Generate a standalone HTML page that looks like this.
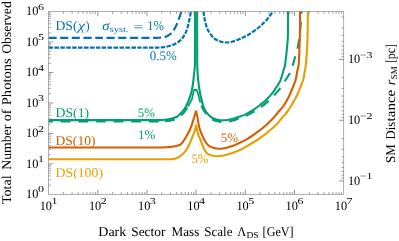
<!DOCTYPE html>
<html><head><meta charset="utf-8"><title>Dark sector limits</title>
<style>
html,body{margin:0;padding:0;background:#fff;}
body{width:399px;height:241px;overflow:hidden;font-family:"Liberation Serif",serif;}
svg{display:block;will-change:transform;text-rendering:geometricPrecision;}
</style></head><body>
<svg width="399" height="241" viewBox="0 0 399 241" font-family="'Liberation Serif', serif">
<defs><clipPath id="cp"><rect x="47.60" y="11.00" width="297.10" height="183.70"/></clipPath></defs>
<rect width="399" height="241" fill="#fff"/>
<g clip-path="url(#cp)">
<path d="M48.60,37.80 C57.17,37.80 83.10,37.80 100.00,37.80 C116.90,37.80 140.33,37.81 150.00,37.80 C159.67,37.79 156.00,37.80 158.00,37.75 C160.00,37.70 160.83,37.62 162.00,37.50 C163.17,37.38 163.90,37.37 165.00,37.00 C166.10,36.63 167.52,35.97 168.60,35.30 C169.68,34.63 170.63,33.88 171.50,33.00 C172.37,32.12 173.05,31.17 173.80,30.00 C174.55,28.83 175.37,27.25 176.00,26.00 C176.63,24.75 177.10,23.75 177.60,22.50 C178.10,21.25 178.55,19.75 179.00,18.50 C179.45,17.25 179.90,16.20 180.30,15.00 C180.70,13.80 181.22,11.92 181.40,11.30" fill="none" stroke="#0072B2" stroke-width="2.20" stroke-linejoin="round" stroke-dasharray="8.1 3.5" stroke-dashoffset="0.00"/>
<path d="M48.60,47.60 C57.17,47.60 83.10,47.60 100.00,47.60 C116.90,47.60 140.50,47.61 150.00,47.60 C159.50,47.59 155.17,47.58 157.00,47.55 C158.83,47.52 159.67,47.49 161.00,47.40 C162.33,47.31 163.50,47.27 165.00,47.00 C166.50,46.73 168.33,46.30 170.00,45.80 C171.67,45.30 173.48,44.75 175.00,44.00 C176.52,43.25 177.85,42.30 179.10,41.30 C180.35,40.30 181.50,39.25 182.50,38.00 C183.50,36.75 184.38,35.13 185.10,33.80 C185.82,32.47 186.30,31.38 186.80,30.00 C187.30,28.62 187.68,27.17 188.10,25.50 C188.52,23.83 188.93,21.75 189.30,20.00 C189.67,18.25 190.02,16.45 190.30,15.00 C190.58,13.55 190.88,11.92 191.00,11.30" fill="none" stroke="#0072B2" stroke-width="2.20" stroke-linejoin="round" stroke-dasharray="4.5 1.4" stroke-dashoffset="0.00"/>
<path d="M203.50,11.30 C203.65,12.42 204.07,16.05 204.40,18.00 C204.73,19.95 205.07,21.33 205.50,23.00 C205.93,24.67 206.42,26.50 207.00,28.00 C207.58,29.50 208.17,30.67 209.00,32.00 C209.83,33.33 211.00,34.83 212.00,36.00 C213.00,37.17 213.83,38.17 215.00,39.00 C216.17,39.83 217.67,40.47 219.00,41.00 C220.33,41.53 221.67,41.95 223.00,42.20 C224.33,42.45 225.50,42.57 227.00,42.50 C228.50,42.43 230.17,42.27 232.00,41.80 C233.83,41.33 236.17,40.42 238.00,39.70 C239.83,38.98 241.32,38.28 243.00,37.50 C244.68,36.72 246.43,35.97 248.10,35.00 C249.77,34.03 251.33,32.87 253.00,31.70 C254.67,30.53 256.60,29.20 258.10,28.00 C259.60,26.80 260.67,25.77 262.00,24.50 C263.33,23.23 264.77,21.90 266.10,20.40 C267.43,18.90 268.82,17.02 270.00,15.50 C271.18,13.98 272.67,12.00 273.20,11.30" fill="none" stroke="#0072B2" stroke-width="2.20" stroke-linejoin="round" stroke-dasharray="4.5 1.4" stroke-dashoffset="0.00"/>
<path d="M48.60,121.50 C57.17,121.50 82.27,121.50 100.00,121.50 C117.73,121.50 145.00,121.51 155.00,121.50 C165.00,121.49 158.50,121.48 160.00,121.45 C161.50,121.42 162.33,121.42 164.00,121.30 C165.67,121.17 168.17,121.00 170.00,120.70 C171.83,120.40 173.67,119.95 175.00,119.50 C176.33,119.05 177.08,118.58 178.00,118.00 C178.92,117.42 179.53,116.90 180.50,116.00 C181.47,115.10 182.80,113.80 183.80,112.60 C184.80,111.40 185.80,109.82 186.50,108.80 C187.20,107.78 187.75,106.88 188.00,106.50" fill="none" stroke="#009E73" stroke-width="2.10" stroke-linejoin="round" stroke-dasharray="9.8 7.8" stroke-dashoffset="-12.20"/>
<path d="M188.00,106.50 L190.00,102.80 L192.00,99.00 L193.00,94.00 L194.40,89.20 L195.40,90.50 L196.40,89.40 L198.10,94.00 L199.30,99.00 L200.30,102.50" fill="none" stroke="#009E73" stroke-width="1.70" stroke-linejoin="bevel"/>
<path d="M200.30,102.50 C200.47,103.00 200.77,104.25 201.30,105.50 C201.83,106.75 202.58,108.50 203.50,110.00 C204.42,111.50 205.80,113.28 206.80,114.50 C207.80,115.72 208.63,116.48 209.50,117.30 C210.37,118.12 210.92,118.77 212.00,119.40 C213.08,120.03 214.50,120.67 216.00,121.10 C217.50,121.53 219.17,121.87 221.00,122.00 C222.83,122.13 225.17,122.10 227.00,121.90 C228.83,121.70 230.08,121.35 232.00,120.80 C233.92,120.25 236.33,119.37 238.50,118.60 C240.67,117.83 243.28,116.90 245.00,116.20 C246.72,115.50 247.13,115.27 248.80,114.40 C250.47,113.53 252.92,112.25 255.00,111.00 C257.08,109.75 259.00,108.62 261.30,106.90 C263.60,105.18 266.60,102.68 268.80,100.70 C271.00,98.72 272.52,97.20 274.50,95.00 C276.48,92.80 278.95,89.87 280.70,87.50 C282.45,85.13 283.40,83.35 285.00,80.80 C286.60,78.25 289.00,74.83 290.30,72.20 C291.60,69.57 291.92,67.80 292.80,65.00 C293.68,62.20 294.78,58.23 295.60,55.40 C296.42,52.57 297.12,50.73 297.70,48.00 C298.28,45.27 298.68,42.00 299.10,39.00 C299.52,36.00 299.88,33.00 300.20,30.00 C300.52,27.00 300.77,24.12 301.00,21.00 C301.23,17.88 301.50,12.92 301.60,11.30" fill="none" stroke="#009E73" stroke-width="2.10" stroke-linejoin="round" stroke-dasharray="9.8 7.8" stroke-dashoffset="-3.33"/>
<path d="M48.60,120.10 C57.17,120.10 82.27,120.10 100.00,120.10 C117.73,120.10 145.00,120.11 155.00,120.10 C165.00,120.09 158.40,120.10 160.00,120.05 C161.60,120.00 162.93,119.96 164.60,119.80 C166.27,119.64 168.25,119.47 170.00,119.10 C171.75,118.73 173.83,118.07 175.10,117.60 C176.37,117.13 176.83,116.87 177.60,116.30 C178.37,115.73 178.77,115.13 179.70,114.20 C180.63,113.27 182.17,111.98 183.20,110.70 C184.23,109.42 185.08,107.95 185.90,106.50 C186.72,105.05 187.47,103.53 188.10,102.00 C188.73,100.47 189.18,98.80 189.70,97.30 C190.22,95.80 190.77,94.55 191.20,93.00 C191.63,91.45 191.97,89.83 192.30,88.00 C192.63,86.17 192.95,84.00 193.20,82.00 C193.45,80.00 193.53,78.50 193.80,76.00 C194.07,73.50 194.60,70.33 194.80,67.00 C195.00,63.67 194.95,65.28 195.00,56.00 C195.05,46.72 195.08,18.75 195.10,11.30" fill="none" stroke="#009E73" stroke-width="2.10" stroke-linejoin="round"/>
<path d="M197.10,11.30 C197.12,18.75 197.17,46.72 197.20,56.00 C197.23,65.28 197.20,63.67 197.30,67.00 C197.40,70.33 197.62,73.50 197.80,76.00 C197.98,78.50 198.17,80.00 198.40,82.00 C198.63,84.00 198.90,86.00 199.20,88.00 C199.50,90.00 199.83,92.17 200.20,94.00 C200.57,95.83 201.03,97.50 201.40,99.00 C201.77,100.50 202.03,101.63 202.40,103.00 C202.77,104.37 203.13,105.93 203.60,107.20 C204.07,108.47 204.55,109.53 205.20,110.60 C205.85,111.67 206.78,112.75 207.50,113.60 C208.22,114.45 208.75,115.03 209.50,115.70 C210.25,116.37 211.08,117.05 212.00,117.60 C212.92,118.15 213.67,118.57 215.00,119.00 C216.33,119.43 218.33,120.00 220.00,120.20 C221.67,120.40 223.33,120.32 225.00,120.20 C226.67,120.08 228.33,119.83 230.00,119.50 C231.67,119.17 233.33,118.70 235.00,118.20 C236.67,117.70 238.33,117.10 240.00,116.50 C241.67,115.90 243.75,115.13 245.00,114.60 C246.25,114.07 246.03,114.13 247.50,113.30 C248.97,112.47 251.72,110.98 253.80,109.60 C255.88,108.22 257.92,106.65 260.00,105.00 C262.08,103.35 264.20,101.73 266.30,99.70 C268.40,97.67 271.12,94.62 272.60,92.80 C274.08,90.98 274.27,90.18 275.20,88.80 C276.13,87.42 277.30,85.97 278.20,84.50 C279.10,83.03 279.75,82.25 280.60,80.00 C281.45,77.75 282.57,73.50 283.30,71.00 C284.03,68.50 284.47,68.00 285.00,65.00 C285.53,62.00 286.07,57.00 286.50,53.00 C286.93,49.00 287.37,44.00 287.60,41.00 C287.83,38.00 287.82,39.95 287.90,35.00 C287.98,30.05 288.07,15.25 288.10,11.30" fill="none" stroke="#009E73" stroke-width="2.10" stroke-linejoin="round"/>
<path d="M48.60,147.50 C57.17,147.50 82.27,147.50 100.00,147.50 C117.73,147.50 144.67,147.51 155.00,147.50 C165.33,147.49 160.12,147.48 162.00,147.45 C163.88,147.42 164.80,147.39 166.30,147.30 C167.80,147.21 169.55,147.08 171.00,146.90 C172.45,146.72 173.38,146.63 175.00,146.20 C176.62,145.77 179.23,145.25 180.70,144.30 C182.17,143.35 182.65,142.17 183.80,140.50 C184.95,138.83 186.45,136.38 187.60,134.30 C188.75,132.22 189.75,130.38 190.70,128.00 C191.65,125.62 192.63,122.08 193.30,120.00 C193.97,117.92 194.27,117.03 194.70,115.50 C195.13,113.97 195.70,111.58 195.90,110.80 C196.10,111.58 196.77,113.97 197.10,115.50 C197.43,117.03 197.52,117.92 197.90,120.00 C198.28,122.08 198.75,125.62 199.40,128.00 C200.05,130.38 200.93,132.22 201.80,134.30 C202.67,136.38 203.48,138.63 204.60,140.50 C205.72,142.37 206.97,144.25 208.50,145.50 C210.03,146.75 211.88,147.47 213.80,148.00 C215.72,148.53 217.70,148.80 220.00,148.70 C222.30,148.60 225.28,147.93 227.60,147.40 C229.92,146.87 232.25,146.10 233.90,145.50 C235.55,144.90 235.23,144.92 237.50,143.80 C239.77,142.68 244.15,140.78 247.50,138.80 C250.85,136.82 254.47,134.20 257.60,131.90 C260.73,129.60 263.80,127.18 266.30,125.00 C268.80,122.82 270.73,120.80 272.60,118.80 C274.47,116.80 275.63,115.22 277.50,113.00 C279.37,110.78 281.92,108.20 283.80,105.50 C285.68,102.80 287.33,99.72 288.80,96.80 C290.27,93.88 291.47,90.80 292.60,88.00 C293.73,85.20 294.82,82.83 295.60,80.00 C296.38,77.17 296.80,73.50 297.30,71.00 C297.80,68.50 298.27,68.00 298.60,65.00 C298.93,62.00 299.08,58.00 299.30,53.00 C299.52,48.00 299.77,41.95 299.90,35.00 C300.03,28.05 300.07,15.25 300.10,11.30" fill="none" stroke="#D55E00" stroke-width="2.10" stroke-linejoin="bevel"/>
<path d="M48.60,159.30 C57.17,159.30 81.43,159.30 100.00,159.30 C118.57,159.30 148.67,159.31 160.00,159.30 C171.33,159.29 165.83,159.30 168.00,159.25 C170.17,159.20 171.50,159.21 173.00,159.00 C174.50,158.79 175.83,158.47 177.00,158.00 C178.17,157.53 178.67,157.23 180.00,156.20 C181.33,155.17 183.53,153.58 185.00,151.80 C186.47,150.02 187.63,147.80 188.80,145.50 C189.97,143.20 191.15,140.08 192.00,138.00 C192.85,135.92 193.38,134.45 193.90,133.00 C194.42,131.55 194.75,130.67 195.10,129.30 C195.45,127.93 195.85,125.55 196.00,124.80 C196.15,125.55 196.55,127.72 196.90,129.30 C197.25,130.88 197.47,132.43 198.10,134.30 C198.73,136.17 199.92,138.55 200.70,140.50 C201.48,142.45 202.05,144.25 202.80,146.00 C203.55,147.75 204.33,149.67 205.20,151.00 C206.07,152.33 206.87,153.23 208.00,154.00 C209.13,154.77 210.62,155.23 212.00,155.60 C213.38,155.97 214.53,156.17 216.30,156.20 C218.07,156.23 220.30,156.22 222.60,155.80 C224.90,155.38 227.20,154.67 230.10,153.70 C233.00,152.73 236.68,151.55 240.00,150.00 C243.32,148.45 246.67,146.37 250.00,144.40 C253.33,142.43 256.87,140.38 260.00,138.20 C263.13,136.02 266.07,133.60 268.80,131.30 C271.53,129.00 274.22,126.62 276.40,124.40 C278.58,122.18 280.25,119.90 281.90,118.00 C283.55,116.10 284.73,115.08 286.30,113.00 C287.87,110.92 289.63,108.20 291.30,105.50 C292.97,102.80 294.83,99.72 296.30,96.80 C297.77,93.88 298.97,90.80 300.10,88.00 C301.23,85.20 302.32,82.83 303.10,80.00 C303.88,77.17 304.35,73.50 304.80,71.00 C305.25,68.50 305.47,68.00 305.80,65.00 C306.13,62.00 306.50,58.00 306.80,53.00 C307.10,48.00 307.42,41.95 307.60,35.00 C307.78,28.05 307.85,15.25 307.90,11.30" fill="none" stroke="#E69F00" stroke-width="2.10" stroke-linejoin="bevel"/>
</g>
<rect x="48.60" y="11.60" width="295.10" height="182.70" fill="none" stroke="#8c8c8c" stroke-width="0.7"/>
<line x1="63.41" y1="194.30" x2="63.41" y2="192.00" stroke="#7a7a7a" stroke-width="0.70"/>
<line x1="63.41" y1="11.60" x2="63.41" y2="13.90" stroke="#7a7a7a" stroke-width="0.70"/>
<line x1="72.07" y1="194.30" x2="72.07" y2="192.00" stroke="#7a7a7a" stroke-width="0.70"/>
<line x1="72.07" y1="11.60" x2="72.07" y2="13.90" stroke="#7a7a7a" stroke-width="0.70"/>
<line x1="78.21" y1="194.30" x2="78.21" y2="192.00" stroke="#7a7a7a" stroke-width="0.70"/>
<line x1="78.21" y1="11.60" x2="78.21" y2="13.90" stroke="#7a7a7a" stroke-width="0.70"/>
<line x1="82.98" y1="194.30" x2="82.98" y2="192.00" stroke="#7a7a7a" stroke-width="0.70"/>
<line x1="82.98" y1="11.60" x2="82.98" y2="13.90" stroke="#7a7a7a" stroke-width="0.70"/>
<line x1="86.87" y1="194.30" x2="86.87" y2="192.00" stroke="#7a7a7a" stroke-width="0.70"/>
<line x1="86.87" y1="11.60" x2="86.87" y2="13.90" stroke="#7a7a7a" stroke-width="0.70"/>
<line x1="90.16" y1="194.30" x2="90.16" y2="192.00" stroke="#7a7a7a" stroke-width="0.70"/>
<line x1="90.16" y1="11.60" x2="90.16" y2="13.90" stroke="#7a7a7a" stroke-width="0.70"/>
<line x1="93.02" y1="194.30" x2="93.02" y2="192.00" stroke="#7a7a7a" stroke-width="0.70"/>
<line x1="93.02" y1="11.60" x2="93.02" y2="13.90" stroke="#7a7a7a" stroke-width="0.70"/>
<line x1="95.53" y1="194.30" x2="95.53" y2="192.00" stroke="#7a7a7a" stroke-width="0.70"/>
<line x1="95.53" y1="11.60" x2="95.53" y2="13.90" stroke="#7a7a7a" stroke-width="0.70"/>
<line x1="97.78" y1="194.30" x2="97.78" y2="189.70" stroke="#7a7a7a" stroke-width="0.80"/>
<line x1="97.78" y1="11.60" x2="97.78" y2="16.20" stroke="#7a7a7a" stroke-width="0.80"/>
<line x1="112.59" y1="194.30" x2="112.59" y2="192.00" stroke="#7a7a7a" stroke-width="0.70"/>
<line x1="112.59" y1="11.60" x2="112.59" y2="13.90" stroke="#7a7a7a" stroke-width="0.70"/>
<line x1="121.25" y1="194.30" x2="121.25" y2="192.00" stroke="#7a7a7a" stroke-width="0.70"/>
<line x1="121.25" y1="11.60" x2="121.25" y2="13.90" stroke="#7a7a7a" stroke-width="0.70"/>
<line x1="127.39" y1="194.30" x2="127.39" y2="192.00" stroke="#7a7a7a" stroke-width="0.70"/>
<line x1="127.39" y1="11.60" x2="127.39" y2="13.90" stroke="#7a7a7a" stroke-width="0.70"/>
<line x1="132.16" y1="194.30" x2="132.16" y2="192.00" stroke="#7a7a7a" stroke-width="0.70"/>
<line x1="132.16" y1="11.60" x2="132.16" y2="13.90" stroke="#7a7a7a" stroke-width="0.70"/>
<line x1="136.06" y1="194.30" x2="136.06" y2="192.00" stroke="#7a7a7a" stroke-width="0.70"/>
<line x1="136.06" y1="11.60" x2="136.06" y2="13.90" stroke="#7a7a7a" stroke-width="0.70"/>
<line x1="139.35" y1="194.30" x2="139.35" y2="192.00" stroke="#7a7a7a" stroke-width="0.70"/>
<line x1="139.35" y1="11.60" x2="139.35" y2="13.90" stroke="#7a7a7a" stroke-width="0.70"/>
<line x1="142.20" y1="194.30" x2="142.20" y2="192.00" stroke="#7a7a7a" stroke-width="0.70"/>
<line x1="142.20" y1="11.60" x2="142.20" y2="13.90" stroke="#7a7a7a" stroke-width="0.70"/>
<line x1="144.72" y1="194.30" x2="144.72" y2="192.00" stroke="#7a7a7a" stroke-width="0.70"/>
<line x1="144.72" y1="11.60" x2="144.72" y2="13.90" stroke="#7a7a7a" stroke-width="0.70"/>
<line x1="146.97" y1="194.30" x2="146.97" y2="189.70" stroke="#7a7a7a" stroke-width="0.80"/>
<line x1="146.97" y1="11.60" x2="146.97" y2="16.20" stroke="#7a7a7a" stroke-width="0.80"/>
<line x1="161.77" y1="194.30" x2="161.77" y2="192.00" stroke="#7a7a7a" stroke-width="0.70"/>
<line x1="161.77" y1="11.60" x2="161.77" y2="13.90" stroke="#7a7a7a" stroke-width="0.70"/>
<line x1="170.43" y1="194.30" x2="170.43" y2="192.00" stroke="#7a7a7a" stroke-width="0.70"/>
<line x1="170.43" y1="11.60" x2="170.43" y2="13.90" stroke="#7a7a7a" stroke-width="0.70"/>
<line x1="176.58" y1="194.30" x2="176.58" y2="192.00" stroke="#7a7a7a" stroke-width="0.70"/>
<line x1="176.58" y1="11.60" x2="176.58" y2="13.90" stroke="#7a7a7a" stroke-width="0.70"/>
<line x1="181.34" y1="194.30" x2="181.34" y2="192.00" stroke="#7a7a7a" stroke-width="0.70"/>
<line x1="181.34" y1="11.60" x2="181.34" y2="13.90" stroke="#7a7a7a" stroke-width="0.70"/>
<line x1="185.24" y1="194.30" x2="185.24" y2="192.00" stroke="#7a7a7a" stroke-width="0.70"/>
<line x1="185.24" y1="11.60" x2="185.24" y2="13.90" stroke="#7a7a7a" stroke-width="0.70"/>
<line x1="188.53" y1="194.30" x2="188.53" y2="192.00" stroke="#7a7a7a" stroke-width="0.70"/>
<line x1="188.53" y1="11.60" x2="188.53" y2="13.90" stroke="#7a7a7a" stroke-width="0.70"/>
<line x1="191.38" y1="194.30" x2="191.38" y2="192.00" stroke="#7a7a7a" stroke-width="0.70"/>
<line x1="191.38" y1="11.60" x2="191.38" y2="13.90" stroke="#7a7a7a" stroke-width="0.70"/>
<line x1="193.90" y1="194.30" x2="193.90" y2="192.00" stroke="#7a7a7a" stroke-width="0.70"/>
<line x1="193.90" y1="11.60" x2="193.90" y2="13.90" stroke="#7a7a7a" stroke-width="0.70"/>
<line x1="196.15" y1="194.30" x2="196.15" y2="189.70" stroke="#7a7a7a" stroke-width="0.80"/>
<line x1="196.15" y1="11.60" x2="196.15" y2="16.20" stroke="#7a7a7a" stroke-width="0.80"/>
<line x1="210.96" y1="194.30" x2="210.96" y2="192.00" stroke="#7a7a7a" stroke-width="0.70"/>
<line x1="210.96" y1="11.60" x2="210.96" y2="13.90" stroke="#7a7a7a" stroke-width="0.70"/>
<line x1="219.62" y1="194.30" x2="219.62" y2="192.00" stroke="#7a7a7a" stroke-width="0.70"/>
<line x1="219.62" y1="11.60" x2="219.62" y2="13.90" stroke="#7a7a7a" stroke-width="0.70"/>
<line x1="225.76" y1="194.30" x2="225.76" y2="192.00" stroke="#7a7a7a" stroke-width="0.70"/>
<line x1="225.76" y1="11.60" x2="225.76" y2="13.90" stroke="#7a7a7a" stroke-width="0.70"/>
<line x1="230.53" y1="194.30" x2="230.53" y2="192.00" stroke="#7a7a7a" stroke-width="0.70"/>
<line x1="230.53" y1="11.60" x2="230.53" y2="13.90" stroke="#7a7a7a" stroke-width="0.70"/>
<line x1="234.42" y1="194.30" x2="234.42" y2="192.00" stroke="#7a7a7a" stroke-width="0.70"/>
<line x1="234.42" y1="11.60" x2="234.42" y2="13.90" stroke="#7a7a7a" stroke-width="0.70"/>
<line x1="237.71" y1="194.30" x2="237.71" y2="192.00" stroke="#7a7a7a" stroke-width="0.70"/>
<line x1="237.71" y1="11.60" x2="237.71" y2="13.90" stroke="#7a7a7a" stroke-width="0.70"/>
<line x1="240.57" y1="194.30" x2="240.57" y2="192.00" stroke="#7a7a7a" stroke-width="0.70"/>
<line x1="240.57" y1="11.60" x2="240.57" y2="13.90" stroke="#7a7a7a" stroke-width="0.70"/>
<line x1="243.08" y1="194.30" x2="243.08" y2="192.00" stroke="#7a7a7a" stroke-width="0.70"/>
<line x1="243.08" y1="11.60" x2="243.08" y2="13.90" stroke="#7a7a7a" stroke-width="0.70"/>
<line x1="245.33" y1="194.30" x2="245.33" y2="189.70" stroke="#7a7a7a" stroke-width="0.80"/>
<line x1="245.33" y1="11.60" x2="245.33" y2="16.20" stroke="#7a7a7a" stroke-width="0.80"/>
<line x1="260.14" y1="194.30" x2="260.14" y2="192.00" stroke="#7a7a7a" stroke-width="0.70"/>
<line x1="260.14" y1="11.60" x2="260.14" y2="13.90" stroke="#7a7a7a" stroke-width="0.70"/>
<line x1="268.80" y1="194.30" x2="268.80" y2="192.00" stroke="#7a7a7a" stroke-width="0.70"/>
<line x1="268.80" y1="11.60" x2="268.80" y2="13.90" stroke="#7a7a7a" stroke-width="0.70"/>
<line x1="274.94" y1="194.30" x2="274.94" y2="192.00" stroke="#7a7a7a" stroke-width="0.70"/>
<line x1="274.94" y1="11.60" x2="274.94" y2="13.90" stroke="#7a7a7a" stroke-width="0.70"/>
<line x1="279.71" y1="194.30" x2="279.71" y2="192.00" stroke="#7a7a7a" stroke-width="0.70"/>
<line x1="279.71" y1="11.60" x2="279.71" y2="13.90" stroke="#7a7a7a" stroke-width="0.70"/>
<line x1="283.61" y1="194.30" x2="283.61" y2="192.00" stroke="#7a7a7a" stroke-width="0.70"/>
<line x1="283.61" y1="11.60" x2="283.61" y2="13.90" stroke="#7a7a7a" stroke-width="0.70"/>
<line x1="286.90" y1="194.30" x2="286.90" y2="192.00" stroke="#7a7a7a" stroke-width="0.70"/>
<line x1="286.90" y1="11.60" x2="286.90" y2="13.90" stroke="#7a7a7a" stroke-width="0.70"/>
<line x1="289.75" y1="194.30" x2="289.75" y2="192.00" stroke="#7a7a7a" stroke-width="0.70"/>
<line x1="289.75" y1="11.60" x2="289.75" y2="13.90" stroke="#7a7a7a" stroke-width="0.70"/>
<line x1="292.27" y1="194.30" x2="292.27" y2="192.00" stroke="#7a7a7a" stroke-width="0.70"/>
<line x1="292.27" y1="11.60" x2="292.27" y2="13.90" stroke="#7a7a7a" stroke-width="0.70"/>
<line x1="294.52" y1="194.30" x2="294.52" y2="189.70" stroke="#7a7a7a" stroke-width="0.80"/>
<line x1="294.52" y1="11.60" x2="294.52" y2="16.20" stroke="#7a7a7a" stroke-width="0.80"/>
<line x1="309.32" y1="194.30" x2="309.32" y2="192.00" stroke="#7a7a7a" stroke-width="0.70"/>
<line x1="309.32" y1="11.60" x2="309.32" y2="13.90" stroke="#7a7a7a" stroke-width="0.70"/>
<line x1="317.98" y1="194.30" x2="317.98" y2="192.00" stroke="#7a7a7a" stroke-width="0.70"/>
<line x1="317.98" y1="11.60" x2="317.98" y2="13.90" stroke="#7a7a7a" stroke-width="0.70"/>
<line x1="324.13" y1="194.30" x2="324.13" y2="192.00" stroke="#7a7a7a" stroke-width="0.70"/>
<line x1="324.13" y1="11.60" x2="324.13" y2="13.90" stroke="#7a7a7a" stroke-width="0.70"/>
<line x1="328.89" y1="194.30" x2="328.89" y2="192.00" stroke="#7a7a7a" stroke-width="0.70"/>
<line x1="328.89" y1="11.60" x2="328.89" y2="13.90" stroke="#7a7a7a" stroke-width="0.70"/>
<line x1="332.79" y1="194.30" x2="332.79" y2="192.00" stroke="#7a7a7a" stroke-width="0.70"/>
<line x1="332.79" y1="11.60" x2="332.79" y2="13.90" stroke="#7a7a7a" stroke-width="0.70"/>
<line x1="336.08" y1="194.30" x2="336.08" y2="192.00" stroke="#7a7a7a" stroke-width="0.70"/>
<line x1="336.08" y1="11.60" x2="336.08" y2="13.90" stroke="#7a7a7a" stroke-width="0.70"/>
<line x1="338.93" y1="194.30" x2="338.93" y2="192.00" stroke="#7a7a7a" stroke-width="0.70"/>
<line x1="338.93" y1="11.60" x2="338.93" y2="13.90" stroke="#7a7a7a" stroke-width="0.70"/>
<line x1="341.45" y1="194.30" x2="341.45" y2="192.00" stroke="#7a7a7a" stroke-width="0.70"/>
<line x1="341.45" y1="11.60" x2="341.45" y2="13.90" stroke="#7a7a7a" stroke-width="0.70"/>
<line x1="48.60" y1="185.13" x2="50.90" y2="185.13" stroke="#7a7a7a" stroke-width="0.70"/>
<line x1="48.60" y1="179.77" x2="50.90" y2="179.77" stroke="#7a7a7a" stroke-width="0.70"/>
<line x1="48.60" y1="175.97" x2="50.90" y2="175.97" stroke="#7a7a7a" stroke-width="0.70"/>
<line x1="48.60" y1="173.02" x2="50.90" y2="173.02" stroke="#7a7a7a" stroke-width="0.70"/>
<line x1="48.60" y1="170.61" x2="50.90" y2="170.61" stroke="#7a7a7a" stroke-width="0.70"/>
<line x1="48.60" y1="168.57" x2="50.90" y2="168.57" stroke="#7a7a7a" stroke-width="0.70"/>
<line x1="48.60" y1="166.80" x2="50.90" y2="166.80" stroke="#7a7a7a" stroke-width="0.70"/>
<line x1="48.60" y1="165.24" x2="50.90" y2="165.24" stroke="#7a7a7a" stroke-width="0.70"/>
<line x1="48.60" y1="163.85" x2="53.20" y2="163.85" stroke="#7a7a7a" stroke-width="0.80"/>
<line x1="48.60" y1="154.68" x2="50.90" y2="154.68" stroke="#7a7a7a" stroke-width="0.70"/>
<line x1="48.60" y1="149.32" x2="50.90" y2="149.32" stroke="#7a7a7a" stroke-width="0.70"/>
<line x1="48.60" y1="145.52" x2="50.90" y2="145.52" stroke="#7a7a7a" stroke-width="0.70"/>
<line x1="48.60" y1="142.57" x2="50.90" y2="142.57" stroke="#7a7a7a" stroke-width="0.70"/>
<line x1="48.60" y1="140.16" x2="50.90" y2="140.16" stroke="#7a7a7a" stroke-width="0.70"/>
<line x1="48.60" y1="138.12" x2="50.90" y2="138.12" stroke="#7a7a7a" stroke-width="0.70"/>
<line x1="48.60" y1="136.35" x2="50.90" y2="136.35" stroke="#7a7a7a" stroke-width="0.70"/>
<line x1="48.60" y1="134.79" x2="50.90" y2="134.79" stroke="#7a7a7a" stroke-width="0.70"/>
<line x1="48.60" y1="133.40" x2="53.20" y2="133.40" stroke="#7a7a7a" stroke-width="0.80"/>
<line x1="48.60" y1="124.23" x2="50.90" y2="124.23" stroke="#7a7a7a" stroke-width="0.70"/>
<line x1="48.60" y1="118.87" x2="50.90" y2="118.87" stroke="#7a7a7a" stroke-width="0.70"/>
<line x1="48.60" y1="115.07" x2="50.90" y2="115.07" stroke="#7a7a7a" stroke-width="0.70"/>
<line x1="48.60" y1="112.12" x2="50.90" y2="112.12" stroke="#7a7a7a" stroke-width="0.70"/>
<line x1="48.60" y1="109.71" x2="50.90" y2="109.71" stroke="#7a7a7a" stroke-width="0.70"/>
<line x1="48.60" y1="107.67" x2="50.90" y2="107.67" stroke="#7a7a7a" stroke-width="0.70"/>
<line x1="48.60" y1="105.90" x2="50.90" y2="105.90" stroke="#7a7a7a" stroke-width="0.70"/>
<line x1="48.60" y1="104.34" x2="50.90" y2="104.34" stroke="#7a7a7a" stroke-width="0.70"/>
<line x1="48.60" y1="102.95" x2="53.20" y2="102.95" stroke="#7a7a7a" stroke-width="0.80"/>
<line x1="48.60" y1="93.78" x2="50.90" y2="93.78" stroke="#7a7a7a" stroke-width="0.70"/>
<line x1="48.60" y1="88.42" x2="50.90" y2="88.42" stroke="#7a7a7a" stroke-width="0.70"/>
<line x1="48.60" y1="84.62" x2="50.90" y2="84.62" stroke="#7a7a7a" stroke-width="0.70"/>
<line x1="48.60" y1="81.67" x2="50.90" y2="81.67" stroke="#7a7a7a" stroke-width="0.70"/>
<line x1="48.60" y1="79.26" x2="50.90" y2="79.26" stroke="#7a7a7a" stroke-width="0.70"/>
<line x1="48.60" y1="77.22" x2="50.90" y2="77.22" stroke="#7a7a7a" stroke-width="0.70"/>
<line x1="48.60" y1="75.45" x2="50.90" y2="75.45" stroke="#7a7a7a" stroke-width="0.70"/>
<line x1="48.60" y1="73.89" x2="50.90" y2="73.89" stroke="#7a7a7a" stroke-width="0.70"/>
<line x1="48.60" y1="72.50" x2="53.20" y2="72.50" stroke="#7a7a7a" stroke-width="0.80"/>
<line x1="48.60" y1="63.33" x2="50.90" y2="63.33" stroke="#7a7a7a" stroke-width="0.70"/>
<line x1="48.60" y1="57.97" x2="50.90" y2="57.97" stroke="#7a7a7a" stroke-width="0.70"/>
<line x1="48.60" y1="54.17" x2="50.90" y2="54.17" stroke="#7a7a7a" stroke-width="0.70"/>
<line x1="48.60" y1="51.22" x2="50.90" y2="51.22" stroke="#7a7a7a" stroke-width="0.70"/>
<line x1="48.60" y1="48.81" x2="50.90" y2="48.81" stroke="#7a7a7a" stroke-width="0.70"/>
<line x1="48.60" y1="46.77" x2="50.90" y2="46.77" stroke="#7a7a7a" stroke-width="0.70"/>
<line x1="48.60" y1="45.00" x2="50.90" y2="45.00" stroke="#7a7a7a" stroke-width="0.70"/>
<line x1="48.60" y1="43.44" x2="50.90" y2="43.44" stroke="#7a7a7a" stroke-width="0.70"/>
<line x1="48.60" y1="42.05" x2="53.20" y2="42.05" stroke="#7a7a7a" stroke-width="0.80"/>
<line x1="48.60" y1="32.88" x2="50.90" y2="32.88" stroke="#7a7a7a" stroke-width="0.70"/>
<line x1="48.60" y1="27.52" x2="50.90" y2="27.52" stroke="#7a7a7a" stroke-width="0.70"/>
<line x1="48.60" y1="23.72" x2="50.90" y2="23.72" stroke="#7a7a7a" stroke-width="0.70"/>
<line x1="48.60" y1="20.77" x2="50.90" y2="20.77" stroke="#7a7a7a" stroke-width="0.70"/>
<line x1="48.60" y1="18.36" x2="50.90" y2="18.36" stroke="#7a7a7a" stroke-width="0.70"/>
<line x1="48.60" y1="16.32" x2="50.90" y2="16.32" stroke="#7a7a7a" stroke-width="0.70"/>
<line x1="48.60" y1="14.55" x2="50.90" y2="14.55" stroke="#7a7a7a" stroke-width="0.70"/>
<line x1="48.60" y1="12.99" x2="50.90" y2="12.99" stroke="#7a7a7a" stroke-width="0.70"/>
<line x1="343.70" y1="59.50" x2="339.10" y2="59.50" stroke="#7a7a7a" stroke-width="0.80"/>
<line x1="343.70" y1="120.25" x2="339.10" y2="120.25" stroke="#7a7a7a" stroke-width="0.80"/>
<line x1="343.70" y1="181.00" x2="339.10" y2="181.00" stroke="#7a7a7a" stroke-width="0.80"/>
<line x1="343.70" y1="17.04" x2="341.40" y2="17.04" stroke="#7a7a7a" stroke-width="0.70"/>
<line x1="343.70" y1="27.74" x2="341.40" y2="27.74" stroke="#7a7a7a" stroke-width="0.70"/>
<line x1="343.70" y1="35.33" x2="341.40" y2="35.33" stroke="#7a7a7a" stroke-width="0.70"/>
<line x1="343.70" y1="41.21" x2="341.40" y2="41.21" stroke="#7a7a7a" stroke-width="0.70"/>
<line x1="343.70" y1="46.02" x2="341.40" y2="46.02" stroke="#7a7a7a" stroke-width="0.70"/>
<line x1="343.70" y1="50.09" x2="341.40" y2="50.09" stroke="#7a7a7a" stroke-width="0.70"/>
<line x1="343.70" y1="53.61" x2="341.40" y2="53.61" stroke="#7a7a7a" stroke-width="0.70"/>
<line x1="343.70" y1="56.72" x2="341.40" y2="56.72" stroke="#7a7a7a" stroke-width="0.70"/>
<line x1="343.70" y1="77.79" x2="341.40" y2="77.79" stroke="#7a7a7a" stroke-width="0.70"/>
<line x1="343.70" y1="88.49" x2="341.40" y2="88.49" stroke="#7a7a7a" stroke-width="0.70"/>
<line x1="343.70" y1="96.08" x2="341.40" y2="96.08" stroke="#7a7a7a" stroke-width="0.70"/>
<line x1="343.70" y1="101.96" x2="341.40" y2="101.96" stroke="#7a7a7a" stroke-width="0.70"/>
<line x1="343.70" y1="106.77" x2="341.40" y2="106.77" stroke="#7a7a7a" stroke-width="0.70"/>
<line x1="343.70" y1="110.84" x2="341.40" y2="110.84" stroke="#7a7a7a" stroke-width="0.70"/>
<line x1="343.70" y1="114.36" x2="341.40" y2="114.36" stroke="#7a7a7a" stroke-width="0.70"/>
<line x1="343.70" y1="117.47" x2="341.40" y2="117.47" stroke="#7a7a7a" stroke-width="0.70"/>
<line x1="343.70" y1="138.54" x2="341.40" y2="138.54" stroke="#7a7a7a" stroke-width="0.70"/>
<line x1="343.70" y1="149.24" x2="341.40" y2="149.24" stroke="#7a7a7a" stroke-width="0.70"/>
<line x1="343.70" y1="156.83" x2="341.40" y2="156.83" stroke="#7a7a7a" stroke-width="0.70"/>
<line x1="343.70" y1="162.71" x2="341.40" y2="162.71" stroke="#7a7a7a" stroke-width="0.70"/>
<line x1="343.70" y1="167.52" x2="341.40" y2="167.52" stroke="#7a7a7a" stroke-width="0.70"/>
<line x1="343.70" y1="171.59" x2="341.40" y2="171.59" stroke="#7a7a7a" stroke-width="0.70"/>
<line x1="343.70" y1="175.11" x2="341.40" y2="175.11" stroke="#7a7a7a" stroke-width="0.70"/>
<line x1="343.70" y1="178.22" x2="341.40" y2="178.22" stroke="#7a7a7a" stroke-width="0.70"/>
<text x="26.10" y="198.00" font-size="12.90" text-anchor="start" fill="#000" stroke="none" textLength="12.30" lengthAdjust="spacingAndGlyphs" >10</text>
<text x="37.90" y="192.40" font-size="9.00" text-anchor="start" fill="#000" stroke="none" textLength="6.00" lengthAdjust="spacingAndGlyphs" >0</text>
<text x="26.10" y="167.55" font-size="12.90" text-anchor="start" fill="#000" stroke="none" textLength="12.30" lengthAdjust="spacingAndGlyphs" >10</text>
<text x="37.90" y="161.95" font-size="9.00" text-anchor="start" fill="#000" stroke="none" textLength="6.00" lengthAdjust="spacingAndGlyphs" >1</text>
<text x="26.10" y="137.10" font-size="12.90" text-anchor="start" fill="#000" stroke="none" textLength="12.30" lengthAdjust="spacingAndGlyphs" >10</text>
<text x="37.90" y="131.50" font-size="9.00" text-anchor="start" fill="#000" stroke="none" textLength="6.00" lengthAdjust="spacingAndGlyphs" >2</text>
<text x="26.10" y="106.65" font-size="12.90" text-anchor="start" fill="#000" stroke="none" textLength="12.30" lengthAdjust="spacingAndGlyphs" >10</text>
<text x="37.90" y="101.05" font-size="9.00" text-anchor="start" fill="#000" stroke="none" textLength="6.00" lengthAdjust="spacingAndGlyphs" >3</text>
<text x="26.10" y="76.20" font-size="12.90" text-anchor="start" fill="#000" stroke="none" textLength="12.30" lengthAdjust="spacingAndGlyphs" >10</text>
<text x="37.90" y="70.60" font-size="9.00" text-anchor="start" fill="#000" stroke="none" textLength="6.00" lengthAdjust="spacingAndGlyphs" >4</text>
<text x="26.10" y="45.75" font-size="12.90" text-anchor="start" fill="#000" stroke="none" textLength="12.30" lengthAdjust="spacingAndGlyphs" >10</text>
<text x="37.90" y="40.15" font-size="9.00" text-anchor="start" fill="#000" stroke="none" textLength="6.00" lengthAdjust="spacingAndGlyphs" >5</text>
<text x="26.10" y="15.30" font-size="12.90" text-anchor="start" fill="#000" stroke="none" textLength="12.30" lengthAdjust="spacingAndGlyphs" >10</text>
<text x="37.90" y="9.70" font-size="9.00" text-anchor="start" fill="#000" stroke="none" textLength="6.00" lengthAdjust="spacingAndGlyphs" >6</text>
<text x="39.70" y="210.00" font-size="12.90" text-anchor="start" fill="#000" stroke="none" textLength="12.30" lengthAdjust="spacingAndGlyphs" >10</text>
<text x="51.50" y="204.40" font-size="9.00" text-anchor="start" fill="#000" stroke="none" textLength="6.00" lengthAdjust="spacingAndGlyphs" >1</text>
<text x="88.88" y="210.00" font-size="12.90" text-anchor="start" fill="#000" stroke="none" textLength="12.30" lengthAdjust="spacingAndGlyphs" >10</text>
<text x="100.68" y="204.40" font-size="9.00" text-anchor="start" fill="#000" stroke="none" textLength="6.00" lengthAdjust="spacingAndGlyphs" >2</text>
<text x="138.07" y="210.00" font-size="12.90" text-anchor="start" fill="#000" stroke="none" textLength="12.30" lengthAdjust="spacingAndGlyphs" >10</text>
<text x="149.87" y="204.40" font-size="9.00" text-anchor="start" fill="#000" stroke="none" textLength="6.00" lengthAdjust="spacingAndGlyphs" >3</text>
<text x="187.25" y="210.00" font-size="12.90" text-anchor="start" fill="#000" stroke="none" textLength="12.30" lengthAdjust="spacingAndGlyphs" >10</text>
<text x="199.05" y="204.40" font-size="9.00" text-anchor="start" fill="#000" stroke="none" textLength="6.00" lengthAdjust="spacingAndGlyphs" >4</text>
<text x="236.43" y="210.00" font-size="12.90" text-anchor="start" fill="#000" stroke="none" textLength="12.30" lengthAdjust="spacingAndGlyphs" >10</text>
<text x="248.23" y="204.40" font-size="9.00" text-anchor="start" fill="#000" stroke="none" textLength="6.00" lengthAdjust="spacingAndGlyphs" >5</text>
<text x="285.62" y="210.00" font-size="12.90" text-anchor="start" fill="#000" stroke="none" textLength="12.30" lengthAdjust="spacingAndGlyphs" >10</text>
<text x="297.42" y="204.40" font-size="9.00" text-anchor="start" fill="#000" stroke="none" textLength="6.00" lengthAdjust="spacingAndGlyphs" >6</text>
<text x="334.80" y="210.00" font-size="12.90" text-anchor="start" fill="#000" stroke="none" textLength="12.30" lengthAdjust="spacingAndGlyphs" >10</text>
<text x="346.60" y="204.40" font-size="9.00" text-anchor="start" fill="#000" stroke="none" textLength="6.00" lengthAdjust="spacingAndGlyphs" >7</text>
<text x="347.90" y="63.40" font-size="12.90" text-anchor="start" fill="#000" stroke="none" textLength="12.30" lengthAdjust="spacingAndGlyphs" >10</text>
<text x="359.70" y="57.80" font-size="9.00" text-anchor="start" fill="#000" stroke="none" textLength="12.80" lengthAdjust="spacingAndGlyphs" >−3</text>
<text x="347.90" y="124.15" font-size="12.90" text-anchor="start" fill="#000" stroke="none" textLength="12.30" lengthAdjust="spacingAndGlyphs" >10</text>
<text x="359.70" y="118.55" font-size="9.00" text-anchor="start" fill="#000" stroke="none" textLength="12.80" lengthAdjust="spacingAndGlyphs" >−2</text>
<text x="347.90" y="184.90" font-size="12.90" text-anchor="start" fill="#000" stroke="none" textLength="12.30" lengthAdjust="spacingAndGlyphs" >10</text>
<text x="359.70" y="179.30" font-size="9.00" text-anchor="start" fill="#000" stroke="none" textLength="12.80" lengthAdjust="spacingAndGlyphs" >−1</text>
<text x="98.30" y="236.30" font-size="13.40" text-anchor="start" fill="#000" stroke="none" textLength="28.00" lengthAdjust="spacingAndGlyphs" >Dark</text>
<text x="131.20" y="236.30" font-size="13.40" text-anchor="start" fill="#000" stroke="none" textLength="34.30" lengthAdjust="spacingAndGlyphs" >Sector</text>
<text x="171.50" y="236.30" font-size="13.40" text-anchor="start" fill="#000" stroke="none" textLength="27.80" lengthAdjust="spacingAndGlyphs" >Mass</text>
<text x="204.20" y="236.30" font-size="13.40" text-anchor="start" fill="#000" stroke="none" textLength="28.30" lengthAdjust="spacingAndGlyphs" >Scale</text>
<text x="237.20" y="236.30" font-size="13.40" text-anchor="start" fill="#000" stroke="none" textLength="9.00" lengthAdjust="spacingAndGlyphs" >Λ</text>
<text x="246.40" y="238.10" font-size="9.00" text-anchor="start" fill="#000" stroke="none" textLength="12.20" lengthAdjust="spacingAndGlyphs" >DS</text>
<text x="262.60" y="236.30" font-size="13.40" text-anchor="start" fill="#000" stroke="none" textLength="31.00" lengthAdjust="spacingAndGlyphs" >[GeV]</text>
<g transform="translate(10.5,203.8) rotate(-90)">
<text x="-0.30" y="0.00" font-size="13.40" text-anchor="start" fill="#000" stroke="none" textLength="28.70" lengthAdjust="spacingAndGlyphs" >Total</text>
<text x="34.00" y="0.00" font-size="13.40" text-anchor="start" fill="#000" stroke="none" textLength="45.10" lengthAdjust="spacingAndGlyphs" >Number</text>
<text x="82.50" y="0.00" font-size="13.40" text-anchor="start" fill="#000" stroke="none" textLength="11.80" lengthAdjust="spacingAndGlyphs" >of</text>
<text x="98.50" y="0.00" font-size="13.40" text-anchor="start" fill="#000" stroke="none" textLength="47.10" lengthAdjust="spacingAndGlyphs" >Photons</text>
<text x="150.00" y="0.00" font-size="13.40" text-anchor="start" fill="#000" stroke="none" textLength="52.60" lengthAdjust="spacingAndGlyphs" >Observed</text>
</g>
<g transform="translate(394.8,162.7) rotate(-90)">
<text x="-0.30" y="0.00" font-size="13.40" text-anchor="start" fill="#000" stroke="none" textLength="18.80" lengthAdjust="spacingAndGlyphs" >SM</text>
<text x="23.20" y="0.00" font-size="13.40" text-anchor="start" fill="#000" stroke="none" textLength="17.60" lengthAdjust="spacingAndGlyphs" >Dis</text>
<text x="41.30" y="0.00" font-size="13.40" text-anchor="start" fill="#000" stroke="none" textLength="31.60" lengthAdjust="spacingAndGlyphs" >tance</text>
<text x="77.50" y="0.00" font-size="13.40" text-anchor="start" fill="#000" stroke="none" textLength="5.60" lengthAdjust="spacingAndGlyphs" font-style="italic">r</text>
<text x="83.50" y="2.00" font-size="9.00" text-anchor="start" fill="#000" stroke="none" textLength="12.90" lengthAdjust="spacingAndGlyphs" >SM</text>
<text x="99.60" y="0.00" font-size="13.40" text-anchor="start" fill="#000" stroke="none" textLength="19.00" lengthAdjust="spacingAndGlyphs" >[pc]</text>
</g>
<text x="55.50" y="30.00" font-size="13.40" text-anchor="start" fill="#0072B2" stroke="none" textLength="22.00" lengthAdjust="spacingAndGlyphs" >DS(</text>
<text x="77.80" y="30.30" font-size="13.40" text-anchor="start" fill="#0072B2" stroke="none" textLength="7.50" lengthAdjust="spacingAndGlyphs" font-style="italic">χ</text>
<text x="85.50" y="30.30" font-size="13.40" text-anchor="start" fill="#0072B2" stroke="none" textLength="4.20" lengthAdjust="spacingAndGlyphs" >)</text>
<text x="102.30" y="30.00" font-size="13.40" text-anchor="start" fill="#0072B2" stroke="none" textLength="7.20" lengthAdjust="spacingAndGlyphs" font-style="italic">σ</text>
<text x="109.70" y="32.00" font-size="9.00" text-anchor="start" fill="#0072B2" stroke="none" textLength="18.80" lengthAdjust="spacingAndGlyphs" >syst.</text>
<text x="133.50" y="30.60" font-size="13.40" text-anchor="start" fill="#0072B2" stroke="none" textLength="9.80" lengthAdjust="spacingAndGlyphs" >=</text>
<text x="147.30" y="30.00" font-size="13.40" text-anchor="start" fill="#0072B2" stroke="none" textLength="16.80" lengthAdjust="spacingAndGlyphs" >1%</text>
<text x="149.80" y="60.30" font-size="13.00" text-anchor="start" fill="#0072B2" stroke="none" textLength="27.00" lengthAdjust="spacingAndGlyphs" >0.5%</text>
<text x="55.50" y="116.50" font-size="13.40" text-anchor="start" fill="#009E73" stroke="none" textLength="33.60" lengthAdjust="spacingAndGlyphs" >DS(1)</text>
<text x="137.80" y="117.20" font-size="13.00" text-anchor="start" fill="#009E73" stroke="none" textLength="17.00" lengthAdjust="spacingAndGlyphs" >5%</text>
<text x="138.00" y="138.80" font-size="13.00" text-anchor="start" fill="#009E73" stroke="none" textLength="17.40" lengthAdjust="spacingAndGlyphs" >1%</text>
<text x="55.50" y="144.60" font-size="13.40" text-anchor="start" fill="#D55E00" stroke="none" textLength="40.00" lengthAdjust="spacingAndGlyphs" >DS(10)</text>
<text x="220.80" y="141.80" font-size="13.00" text-anchor="start" fill="#D55E00" stroke="none" textLength="17.40" lengthAdjust="spacingAndGlyphs" >5%</text>
<text x="55.50" y="176.80" font-size="13.40" text-anchor="start" fill="#E69F00" stroke="none" textLength="47.50" lengthAdjust="spacingAndGlyphs" >DS(100)</text>
<text x="191.40" y="163.00" font-size="13.00" text-anchor="start" fill="#E69F00" stroke="none" textLength="17.00" lengthAdjust="spacingAndGlyphs" >5%</text>
</svg>
</body></html>
